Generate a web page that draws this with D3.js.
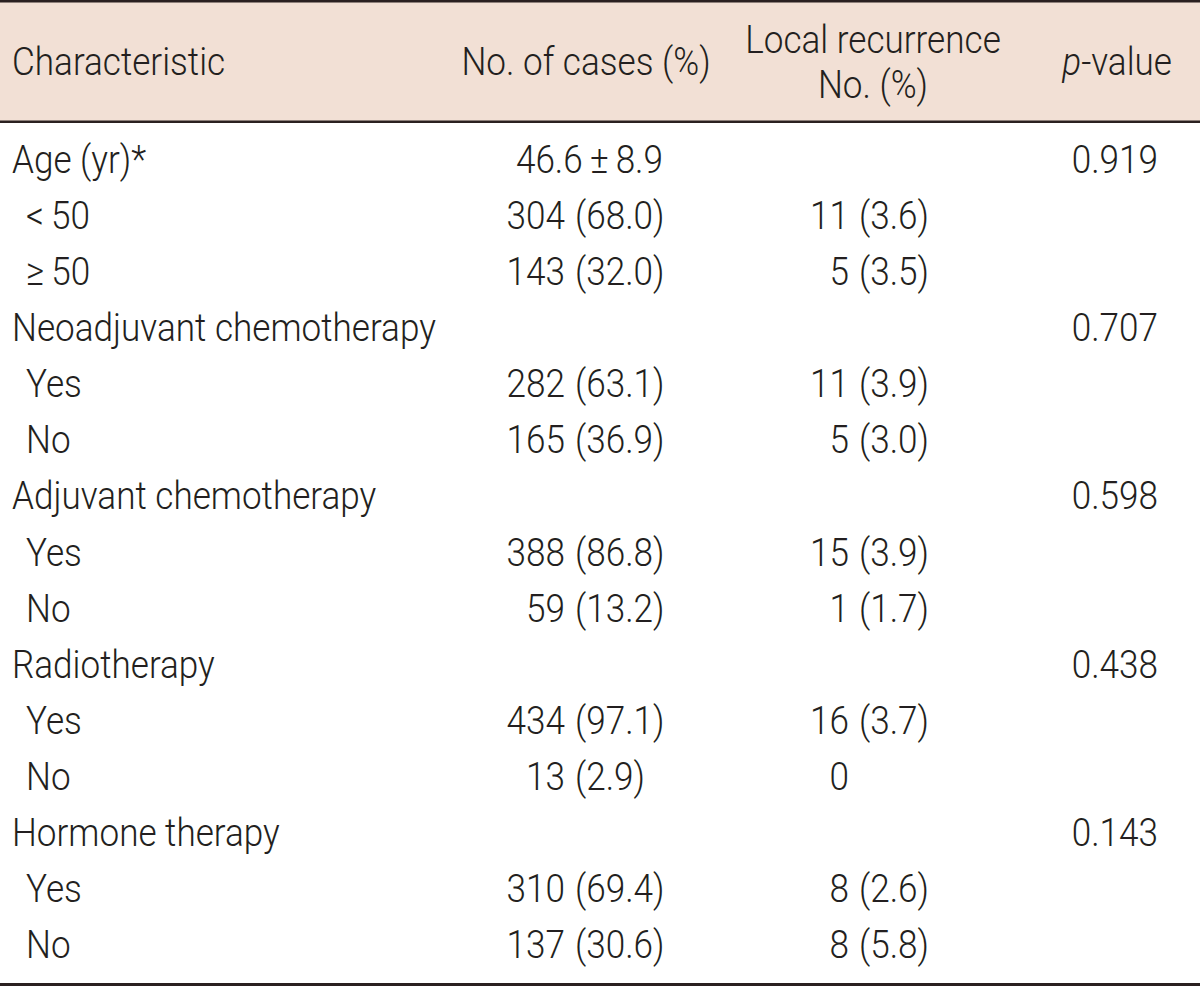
<!DOCTYPE html>
<html>
<head>
<meta charset="utf-8">
<script src="https://cdn.jsdelivr.net/npm/d3@7"></script>
<style>
  html, body { margin: 0; padding: 0; background: #ffffff; }
  svg { display: block; }
</style>
</head>
<body>
<svg id="chart" width="1200" height="987"></svg>
<script>
// ---- data ----
const headers = ["Characteristic", "No. of cases (%)", "Local recurrence", "No. (%)", "p", "-value"];
const labels = [
  "Age (yr)*", "<\u200950", "\u2265\u200950",
  "Neoadjuvant chemotherapy", "Yes", "No",
  "Adjuvant chemotherapy", "Yes", "No",
  "Radiotherapy", "Yes", "No",
  "Hormone therapy", "Yes", "No"
];
const levels = [0, 1, 1, 0, 1, 1, 0, 1, 1, 0, 1, 1, 0, 1, 1];
const cases = [
  "46.6\u2009\u00b1\u20098.9", "304 (68.0)", "143 (32.0)",
  "", "282 (63.1)", "165 (36.9)",
  "", "388 (86.8)", "59 (13.2)",
  "", "434 (97.1)", "13 (2.9)",
  "", "310 (69.4)", "137 (30.6)"
];
const recurrence = [
  "", "11 (3.6)", "5 (3.5)",
  "", "11 (3.9)", "5 (3.0)",
  "", "15 (3.9)", "1 (1.7)",
  "", "16 (3.7)", "0",
  "", "8 (2.6)", "8 (5.8)"
];
const pvalues = [
  "0.919", "", "",
  "0.707", "", "",
  "0.598", "", "",
  "0.438", "", "",
  "0.143", "", ""
];

// ---- layout ----
const W = 1200, H = 987;
const FONT = "Roboto, 'Liberation Sans', Arial, sans-serif";
const FS = 39, SX = 0.9;
const INK = "#231f20";
const svg = d3.select("#chart");

const rowIdx = d3.range(labels.length);
const y = d3.scaleLinear().domain([0, labels.length - 1]).range([173, 958]);

// header background and rules
svg.append("rect").attr("x", 0).attr("y", 0).attr("width", W).attr("height", 122)
  .attr("fill", "#f2e0d5");
svg.append("rect").attr("x", 0).attr("y", 0).attr("width", W).attr("height", 2.5).attr("fill", "#2a2020");
svg.append("rect").attr("x", 0).attr("y", 120.5).attr("width", W).attr("height", 2.5).attr("fill", "#2a2020");
svg.append("rect").attr("x", 0).attr("y", 983).attr("width", W).attr("height", 3).attr("fill", "#2a2020");

function txt(g, s, x, yy, anchor, italic) {
  return g.append("text")
    .attr("transform", `translate(${x},${yy}) scale(${SX},1)`)
    .attr("text-anchor", anchor || "start")
    .attr("font-family", FONT)
    .attr("font-size", FS)
    .attr("font-weight", 300)
    .attr("font-style", italic ? "italic" : "normal")
    .attr("fill", INK)
    .text(s);
}

const head = svg.append("g");
txt(head, headers[0], 12, 75, "start");
txt(head, headers[1], 586, 75, "middle");
txt(head, headers[2], 873, 53, "middle");
txt(head, headers[3], 873, 98, "middle");
const pv = head.append("text")
  .attr("transform", `translate(1172,75) scale(${SX},1)`)
  .attr("text-anchor", "end")
  .attr("font-family", FONT).attr("font-size", FS).attr("font-weight", 300).attr("fill", INK);
pv.append("tspan").attr("font-style", "italic").text(headers[4]);
pv.append("tspan").text(headers[5]);

// body
const body = svg.append("g");
const col2Paren = 575, col3Paren = 859, gap = 10;
const col2Right = 663, pRight = 1158;

function pairCell(s, parenX, plainRight, yy) {
  if (!s) return;
  const k = s.indexOf(" (");
  if (k >= 0) {
    txt(body, s.slice(0, k), parenX - gap, yy, "end");
    txt(body, s.slice(k + 1), parenX, yy, "start");
  } else if (plainRight != null) {
    txt(body, s, plainRight, yy, "end");
  } else {
    txt(body, s, parenX - gap, yy, "end");
  }
}

rowIdx.forEach(i => {
  const yy = y(i);
  txt(body, labels[i], levels[i] ? 26 : 12, yy, "start");
  pairCell(cases[i], col2Paren, col2Right, yy);
  pairCell(recurrence[i], col3Paren, null, yy);
  if (pvalues[i]) txt(body, pvalues[i], pRight, yy, "end");
});
</script>
</body>
</html>
